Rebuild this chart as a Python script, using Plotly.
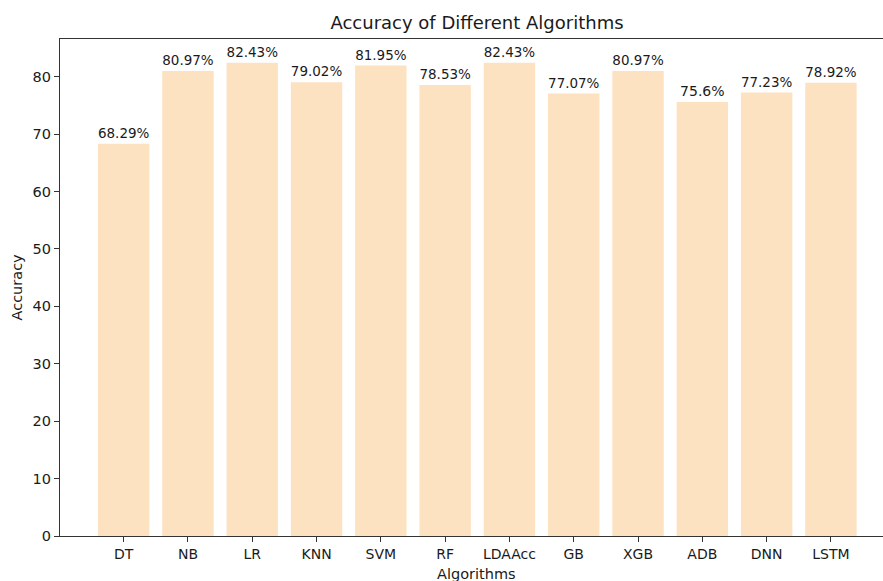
import plotly.graph_objects as go

algorithms = ["DT", "NB", "LR", "KNN", "SVM", "RF", "LDAAcc", "GB", "XGB", "ADB", "DNN", "LSTM"]
accuracy = [68.29, 80.97, 82.43, 79.02, 81.95, 78.53, 82.43, 77.07, 80.97, 75.6, 77.23, 78.92]
y_ticks = [0, 10, 20, 30, 40, 50, 60, 70, 80]

x_pos = list(range(len(algorithms)))
labels = [f"{v}%" for v in accuracy]

font_family = "DejaVu Sans"
text_color = "#1a1a1a"
W, H = 883, 581
ml, mr, mt, mb = 60, 0, 39, 45

fig = go.Figure()
fig.add_trace(go.Bar(
    x=x_pos, y=accuracy, width=0.8,
    marker=dict(color="#FDE2C2", line=dict(width=0)),
    text=labels, textposition="outside", cliponaxis=False,
    textfont=dict(family=font_family, size=14, color=text_color),
    hoverinfo="x+y",
))

ymax = max(accuracy) * 1.05
fig.update_layout(
    width=W, height=H,
    margin=dict(l=ml, r=mr, t=mt, b=mb, autoexpand=False),
    paper_bgcolor="white", plot_bgcolor="white",
    showlegend=False,
    font=dict(family=font_family, size=14, color=text_color),
    title=dict(text="Accuracy of Different Algorithms", xref="container", x=477 / W,
               xanchor="center", yref="container", y=1 - 23 / H, yanchor="middle",
               font=dict(size=18, family=font_family, color=text_color)),
    xaxis=dict(range=[-0.99, 11.81], tickmode="array", tickvals=x_pos, ticktext=algorithms,
               automargin=False,
               showgrid=False, zeroline=False, showline=True, linecolor="#333", linewidth=1.3,
               mirror=True, ticks="outside", ticklen=5, tickcolor="#333",
               tickfont=dict(size=14, family=font_family, color=text_color)),
    yaxis=dict(range=[0, ymax], tickmode="array", tickvals=y_ticks, automargin=False,
               showgrid=False, zeroline=False, showline=True, linecolor="#333", linewidth=1.3,
               ticks="outside", ticklen=5, tickcolor="#333",
               tickfont=dict(size=14.5, family=font_family, color=text_color)),
    annotations=[
        dict(text="Algorithms", xref="paper", yref="paper",
             x=(477 - ml) / (W - ml - mr), y=-(574 - (H - mb)) / (H - mt - mb),
             xanchor="center", yanchor="middle", showarrow=False,
             font=dict(size=14.5, family=font_family, color=text_color)),
        dict(text="Accuracy", xref="paper", yref="paper", textangle=-90,
             x=(16 - ml) / (W - ml - mr), y=0.5,
             xanchor="center", yanchor="middle", showarrow=False,
             font=dict(size=14.5, family=font_family, color=text_color)),
    ],
)

fig.write_html(
    "out.html",
    config={"displayModeBar": False},
    post_script="document.body.style.margin='0';document.body.style.padding='0';"
                "document.body.style.overflow='hidden';"
                "document.documentElement.style.overflow='hidden';",
)
